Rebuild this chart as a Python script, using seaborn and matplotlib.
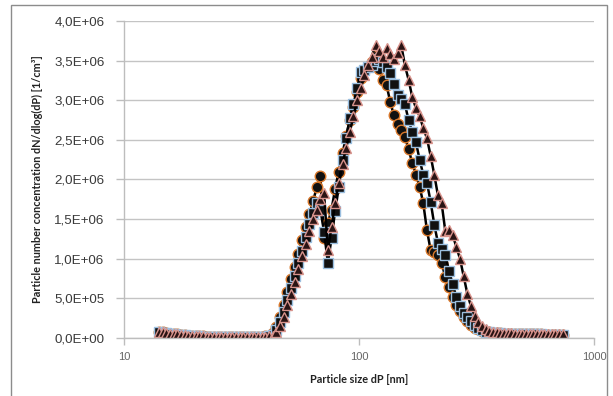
import matplotlib
matplotlib.use("Agg")
import matplotlib.pyplot as plt
import matplotlib.ticker as mticker
from matplotlib.patches import Rectangle
import seaborn as sns
import pandas as pd

# Particle diameters (nm), SMPS channels
diameters = [14.1, 14.6, 15.1, 15.7, 16.3, 16.8, 17.5, 18.1, 18.8, 19.5,
             20.2, 20.9, 21.7, 22.5, 23.3, 24.1, 25.0, 25.9, 26.9, 27.9,
             28.9, 30.0, 31.1, 32.2, 33.4, 34.6, 35.9, 37.2, 38.5, 40.0,
             41.4, 42.9, 44.5, 46.1, 47.8, 49.6, 51.4, 53.3, 55.2, 57.3,
             59.4, 61.5, 63.8, 66.1, 68.5, 71.0, 73.7, 76.4, 79.1, 82.0,
             85.1, 88.2, 91.4, 94.7, 98.2, 101.8, 105.5, 109.4, 113.4, 117.6,
             121.9, 126.3, 131.0, 135.8, 140.7, 145.9, 151.2, 156.8, 162.5, 168.5,
             174.7, 181.1, 187.7, 194.6, 201.7, 209.1, 216.7, 224.7, 232.9, 241.4,
             250.3, 259.5, 269.0, 278.8, 289.0, 299.6, 310.6, 322.0, 333.8, 346.0,
             358.7, 371.8, 385.4, 399.5, 414.2, 429.4, 445.1, 461.4, 478.3, 495.8,
             514.0, 532.8, 552.3, 572.5, 593.5, 615.3, 637.8, 661.2, 685.4, 710.5,
             736.5]

# Concentrations in units of 1E+06 1/cm3
circles = [0.08, 0.07, 0.06, 0.055, 0.05, 0.045, 0.04, 0.035, 0.03, 0.028,
           0.025, 0.022, 0.02, 0.018, 0.016, 0.015, 0.014, 0.013, 0.012, 0.011,
           0.01, 0.01, 0.01, 0.01, 0.01, 0.011, 0.012, 0.013, 0.015, 0.02,
           0.03, 0.06, 0.14, 0.27, 0.42, 0.58, 0.74, 0.90, 1.06, 1.24,
           1.40, 1.56, 1.73, 1.90, 2.04, 1.26, 1.45, 1.62, 1.88, 2.10,
           2.33, 2.55, 2.75, 2.92, 3.10, 3.28, 3.38, 3.42, 3.48, 3.56,
           3.40, 3.26, 3.19, 2.98, 2.81, 2.70, 2.62, 2.54, 2.38, 2.21,
           2.06, 1.91, 1.70, 1.36, 1.11, 1.09, 1.05, 0.95, 0.77, 0.64,
           0.52, 0.42, 0.34, 0.27, 0.21, 0.17, 0.13, 0.11, 0.09, 0.08,
           0.07, 0.065, 0.06, 0.06, 0.055, 0.055, 0.05, 0.05, 0.05, 0.048,
           0.047, 0.046, 0.045, 0.045, 0.044, 0.043, 0.042, 0.042, 0.041, 0.04,
           0.04]
squares = [0.07, 0.065, 0.06, 0.05, 0.045, 0.04, 0.035, 0.032, 0.028, 0.025,
           0.022, 0.02, 0.018, 0.016, 0.015, 0.014, 0.013, 0.012, 0.011, 0.01,
           0.01, 0.01, 0.01, 0.01, 0.01, 0.01, 0.011, 0.012, 0.013, 0.016,
           0.02, 0.04, 0.10, 0.20, 0.33, 0.48, 0.63, 0.78, 0.94, 1.10,
           1.27, 1.44, 1.58, 1.70, 1.62, 1.34, 0.95, 1.26, 1.60, 1.90,
           2.25, 2.52, 2.78, 2.95, 3.15, 3.36, 3.38, 3.42, 3.45, 3.50,
           3.52, 3.48, 3.42, 3.34, 3.20, 3.07, 3.02, 2.95, 2.75, 2.60,
           2.47, 2.25, 2.06, 1.96, 1.72, 1.43, 1.20, 1.12, 1.05, 0.85,
           0.68, 0.52, 0.40, 0.32, 0.26, 0.21, 0.16, 0.12, 0.10, 0.08,
           0.07, 0.065, 0.06, 0.06, 0.055, 0.055, 0.05, 0.05, 0.05, 0.048,
           0.047, 0.046, 0.045, 0.045, 0.044, 0.043, 0.042, 0.042, 0.041, 0.04,
           0.04]
triangles = [0.075, 0.07, 0.06, 0.055, 0.05, 0.045, 0.04, 0.035, 0.03, 0.027,
             0.024, 0.021, 0.019, 0.017, 0.016, 0.015, 0.014, 0.013, 0.012, 0.011,
             0.01, 0.01, 0.01, 0.01, 0.01, 0.01, 0.01, 0.011, 0.012, 0.014,
             0.02, 0.03, 0.07, 0.15, 0.27, 0.41, 0.56, 0.71, 0.87, 1.03,
             1.19, 1.35, 1.50, 1.62, 1.75, 1.83, 1.11, 1.40, 1.70, 1.96,
             2.20, 2.40, 2.60, 2.80, 3.00, 3.15, 3.32, 3.44, 3.55, 3.70,
             3.62, 3.55, 3.66, 3.58, 3.52, 3.60, 3.70, 3.44, 3.26, 3.04,
             2.90, 2.80, 2.65, 2.52, 2.30, 2.06, 1.80, 1.70, 1.35, 1.36,
             1.30, 1.15, 1.00, 0.78, 0.56, 0.40, 0.28, 0.20, 0.15, 0.11,
             0.09, 0.08, 0.07, 0.065, 0.06, 0.06, 0.058, 0.056, 0.055, 0.054,
             0.053, 0.052, 0.052, 0.051, 0.05, 0.05, 0.05, 0.05, 0.05, 0.05,
             0.05]

y_ticks = [0, 0.5e6, 1.0e6, 1.5e6, 2.0e6, 2.5e6, 3.0e6, 3.5e6, 4.0e6]
x_ticks = [10, 100, 1000]
x_label = "Particle size dP [nm]"
y_label = "Particle number concentration dN/dlog(dP) [1/cm³]"

sns.set_theme(style="white")
plt.rcParams['font.family'] = ['Liberation Sans', 'DejaVu Sans']

fig = plt.figure(figsize=(6.13, 3.96), dpi=100)
ax = fig.add_axes([0.2023, 0.1465, 0.969 - 0.2023, 0.947 - 0.1465])

series = [
    (circles, 'o', '#D9782B', '#111111', 7.6),
    (squares, 's', '#9BBFE0', '#111111', 6.8),
    (triangles, '^', '#D8938C', '#2a1414', 7.8),
]
for vals, mk, ec, fc, ms in series:
    df = pd.DataFrame({'d': diameters, 'n': [v * 1e6 for v in vals]})
    sns.lineplot(data=df, x='d', y='n', ax=ax, color='black', linewidth=1.8,
                 marker=mk, markersize=ms, markerfacecolor=fc,
                 markeredgecolor=ec, markeredgewidth=1.0, sort=False)

ax.set_xscale('log')
ax.set_xlim(10, 1000)
ax.set_ylim(0, 4.0e6)
ax.set_xticks(x_ticks)
ax.xaxis.set_major_formatter(mticker.FixedFormatter([str(t) for t in x_ticks]))
ax.xaxis.set_minor_locator(mticker.NullLocator())
ax.set_yticks(y_ticks)

def fmt(v, pos):
    s = f"{v:.1E}".replace('.', ',')
    return s

ax.yaxis.set_major_formatter(mticker.FuncFormatter(fmt))
ax.grid(axis='y', color='#C4C4C4', linewidth=1.0)
ax.grid(axis='x', visible=False)
ax.set_axisbelow(True)

for side in ['top', 'right']:
    ax.spines[side].set_visible(False)
for side in ['left', 'bottom']:
    ax.spines[side].set_color('#BDBDBD')
    ax.spines[side].set_linewidth(1.0)

ax.tick_params(axis='y', which='major', left=True, length=6, width=1.0,
               color='#BDBDBD', labelsize=9.6, labelcolor='#3A3A3A', pad=8)
ax.tick_params(axis='x', which='major', bottom=True, length=5, width=1.0,
               color='#BDBDBD', labelsize=8, labelcolor='#666666', pad=5)

ax.set_xlabel(x_label, fontsize=7.8, fontweight='bold', color='#222222',
              family=['Lato', 'DejaVu Sans'], labelpad=8)
ax.set_ylabel(y_label, fontsize=7.8, fontweight='bold', color='#222222',
              family=['Lato', 'DejaVu Sans'], labelpad=8)
ax.yaxis.set_label_coords(-0.172, 0.5)
ax.xaxis.set_label_coords(0.5, -0.115)

fig.patches.append(Rectangle((11 / 613, -0.02), (607 - 11) / 613, 1.02 - 5 / 396,
                             transform=fig.transFigure, fill=False,
                             edgecolor='#8C8C8C', linewidth=1.0))

fig.savefig('out.png', dpi=100)
